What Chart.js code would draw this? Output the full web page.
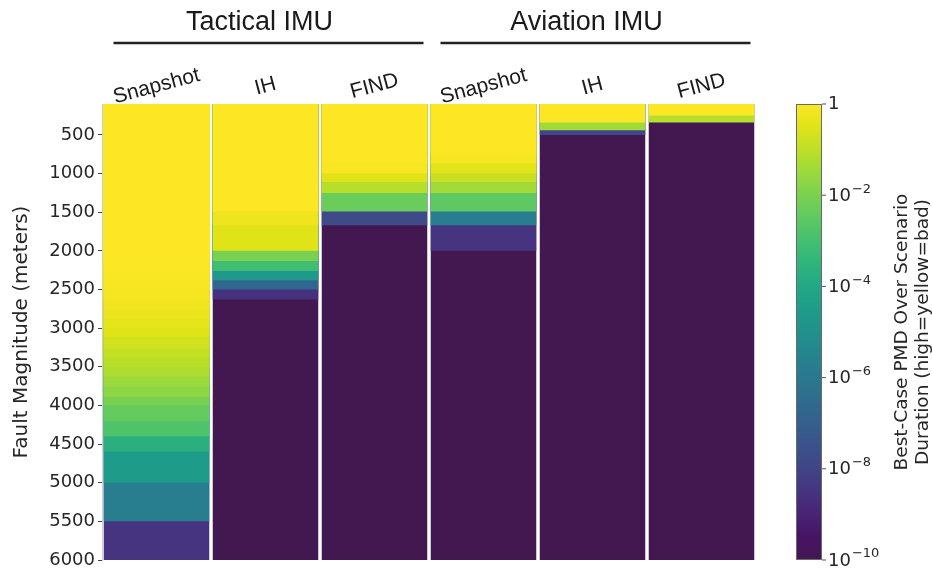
<!DOCTYPE html>
<html>
<head>
<meta charset="utf-8">
<script src="https://cdn.jsdelivr.net/npm/chart.js@4.4.1/dist/chart.umd.min.js"></script>
<style>
  html, body { margin: 0; padding: 0; background: #ffffff; }
  #wrap { width: 932px; height: 574px; position: relative; }
</style>
</head>
<body>
<div id="wrap"><canvas id="c" width="932" height="574"></canvas></div>
<script>
// Panels: filter type per IMU grade
const columns = ['Snapshot', 'IH', 'FIND', 'Snapshot', 'IH', 'FIND'];
const groups = ['Tactical IMU', 'Aviation IMU'];
const groupOf = [0, 0, 0, 1, 1, 1];

// Fault magnitude axis (meters)
const magMin = 100;
const magMax = 6000;
const magTicks = [500, 1000, 1500, 2000, 2500, 3000, 3500, 4000, 4500, 5000, 5500, 6000];

// Lower edge (meters) of each constant-PMD band, per panel, top to bottom
const tacticalSnapshotEnds = [2000, 2130, 2260, 2380, 2500, 2630, 2760, 2880, 3000, 3110, 3260, 3390, 3500, 3630, 3760, 3890, 4000, 4200, 4400, 4600, 5000, 5500, 6000];
const tacticalIHEnds       = [1490, 1670, 2000, 2130, 2260, 2380, 2500, 2630, 6000];
const tacticalFINDEnds     = [860, 1000, 1110, 1250, 1490, 1670, 6000];
const aviationSnapshotEnds = [750, 870, 1000, 1110, 1250, 1490, 1670, 2000, 6000];
const aviationIHEnds       = [340, 440, 500, 6000];
const aviationFINDEnds     = [250, 340, 6000];

// log10 of best-case PMD in each band
const tacticalSnapshotPMD = [0, -0.02, -0.04, -0.06, -0.09, -0.14, -0.2, -0.28, -0.38, -0.5, -0.7, -0.9, -1.05, -1.2, -1.5, -1.7, -2.0, -2.4, -2.8, -3.7, -4.5, -5.8, -8.5];
const tacticalIHPMD       = [0, -0.25, -0.5, -2.0, -3.1, -4.6, -6.7, -8.6, -10];
const tacticalFINDPMD     = [0, -0.1, -0.5, -1.1, -2.3, -7.8, -10];
const aviationSnapshotPMD = [0, -0.12, -0.45, -0.85, -1.4, -2.5, -5.8, -8.5, -10];
const aviationIHPMD       = [0, -1.4, -7.9, -10];
const aviationFINDPMD     = [0, -1.1, -10];

// Colorbar range and ticks (log10)
const cbMin = -10;
const cbMax = 0;
const cbTicks = [0, -2, -4, -6, -8, -10];

const bandEnds = [tacticalSnapshotEnds, tacticalIHEnds, tacticalFINDEnds, aviationSnapshotEnds, aviationIHEnds, aviationFINDEnds];
const bandPMD  = [tacticalSnapshotPMD, tacticalIHPMD, tacticalFINDPMD, aviationSnapshotPMD, aviationIHPMD, aviationFINDPMD];

// viridis-style ramp, sampled every 0.05 (darkest stop slightly muted)
const VIRIDIS = ['#431850','#471365','#482475','#463480','#414487','#3b528b','#355f8d','#2f6c8e','#2a788e','#25848e',
                 '#21918c','#1e9c89','#22a884','#2fb47c','#44bf70','#5ec962','#7ad151','#9bd93c','#bddf26','#dfe318','#fde725'];
function hexRgb(h) { return [parseInt(h.slice(1,3),16), parseInt(h.slice(3,5),16), parseInt(h.slice(5,7),16)]; }
const VIR_RGB = VIRIDIS.map(hexRgb);
function viridis(t) {
  t = Math.max(0, Math.min(1, t));
  const p = t * (VIR_RGB.length - 1);
  const i = Math.min(VIR_RGB.length - 2, Math.floor(p));
  const f = p - i;
  const a = VIR_RGB[i], b = VIR_RGB[i + 1];
  const c = a.map((v, k) => Math.round(v + (b[k] - v) * f));
  return `rgb(${c[0]},${c[1]},${c[2]})`;
}
function pmdColor(logv) { return viridis((logv - cbMin) / (cbMax - cbMin)); }

// Each band is a floating bar from the top of the range down to its lower edge;
// earlier (upper) bands are painted over later ones, so edges blend without seams.
const nBands = Math.max(...bandEnds.map(b => b.length));
const datasets = [];
for (let i = 0; i < nBands; i++) {
  datasets.push({
    data: columns.map((_, c) => i < bandEnds[c].length ? [magMin, bandEnds[c][i]] : null),
    backgroundColor: columns.map((_, c) => i < bandEnds[c].length ? pmdColor(bandPMD[c][i]) : 'rgba(0,0,0,0)'),
    borderWidth: 0,
    grouped: false,
    categoryPercentage: 1.0,
    barPercentage: 0.968
  });
}

const TEXT = '#262626';
const SANS = '"Liberation Sans", Arial, sans-serif';
const DEJAVU = '"DejaVu Sans", sans-serif';

const decor = {
  id: 'decor',
  afterDraw(chart) {
    const ctx = chart.ctx;
    const xs = chart.scales.x;
    const area = chart.chartArea;
    ctx.save();

    // group headers with rules beneath
    groups.forEach((g, gi) => {
      const idx = groupOf.map((v, k) => v === gi ? k : -1).filter(k => k >= 0);
      const x0 = xs.getPixelForValue(idx[0]);
      const x1 = xs.getPixelForValue(idx[idx.length - 1]);
      const cx = (x0 + x1) / 2;
      ctx.fillStyle = '#1a1a1a';
      ctx.font = '27px ' + SANS;
      ctx.textAlign = 'center';
      ctx.textBaseline = 'alphabetic';
      ctx.fillText(g, cx - 6, 30);
      ctx.strokeStyle = '#222222';
      ctx.lineWidth = 2.5;
      ctx.beginPath();
      ctx.moveTo(cx + 3 - 155, 43);
      ctx.lineTo(cx + 3 + 155, 43);
      ctx.stroke();
    });

    // rotated panel labels
    columns.forEach((name, c) => {
      const x = xs.getPixelForValue(c);
      ctx.save();
      ctx.translate(x + 1.5, 92);
      ctx.rotate(-15 * Math.PI / 180);
      ctx.fillStyle = '#1a1a1a';
      ctx.font = '21px ' + SANS;
      ctx.textAlign = 'center';
      ctx.textBaseline = 'alphabetic';
      ctx.fillText(name, 0, 0);
      ctx.restore();
    });

    // colorbar
    const cbL = 796, cbR = 822, cbT = area.top, cbB = area.bottom;
    const grad = ctx.createLinearGradient(0, cbT, 0, cbB);
    VIRIDIS.forEach((col, k) => grad.addColorStop(1 - k / (VIRIDIS.length - 1), col));
    ctx.fillStyle = grad;
    ctx.fillRect(cbL, cbT, cbR - cbL, cbB - cbT);
    ctx.strokeStyle = '#6a6a6a';
    ctx.lineWidth = 1;
    ctx.strokeRect(cbL + 0.5, cbT + 0.5, cbR - cbL - 1, cbB - cbT - 1);

    cbTicks.forEach(v => {
      const y = cbT + (cbMax - v) / (cbMax - cbMin) * (cbB - cbT);
      ctx.strokeStyle = '#555555';
      ctx.beginPath();
      ctx.moveTo(cbR, y);
      ctx.lineTo(cbR + 4, y);
      ctx.stroke();
      ctx.fillStyle = TEXT;
      ctx.textAlign = 'left';
      ctx.textBaseline = 'middle';
      ctx.font = '18px ' + DEJAVU;
      if (v === 0) {
        ctx.fillText('1', cbR + 6, y);
      } else {
        ctx.fillText('10', cbR + 6, y + 1);
        const w = ctx.measureText('10').width;
        ctx.font = '13px ' + DEJAVU;
        ctx.fillText('\u2212' + (-v), cbR + 6 + w + 1, y - 6);
      }
    });

    // colorbar title
    ctx.save();
    ctx.translate(913, (cbT + cbB) / 2);
    ctx.rotate(-Math.PI / 2);
    ctx.fillStyle = TEXT;
    ctx.font = '18.5px ' + DEJAVU;
    ctx.textAlign = 'center';
    ctx.textBaseline = 'middle';
    ctx.fillText('Best-Case PMD Over Scenario', 0, -10.5);
    ctx.fillText('Duration (high=yellow=bad)', 0, 10.5);
    ctx.restore();

    ctx.restore();
  }
};

new Chart(document.getElementById('c'), {
  type: 'bar',
  data: { labels: columns, datasets },
  options: {
    responsive: false,
    devicePixelRatio: 1,
    animation: false,
    layout: { padding: { left: 0, right: 176, top: 104, bottom: 14 } },
    plugins: { legend: { display: false }, tooltip: { enabled: false } },
    scales: {
      x: { type: 'category', display: false, offset: true },
      y: {
        type: 'linear',
        reverse: true,
        min: magMin,
        max: magMax,
        afterFit(scale) { scale.width = 102; },
        afterBuildTicks(scale) { scale.ticks = magTicks.map(v => ({ value: v })); },
        grid: { drawOnChartArea: false, drawTicks: true, tickLength: 4, color: '#444444', lineWidth: 1 },
        border: { display: true, color: '#cfcfcf', width: 1 },
        ticks: {
          color: TEXT,
          font: { family: 'DejaVu Sans', size: 18 },
          padding: 3,
          callback: v => String(v)
        },
        title: {
          display: true,
          text: 'Fault Magnitude (meters)',
          color: TEXT,
          font: { family: 'DejaVu Sans', size: 20 },
          padding: { top: 10, bottom: 0 }
        }
      }
    }
  },
  plugins: [decor]
});
</script>
</body>
</html>
